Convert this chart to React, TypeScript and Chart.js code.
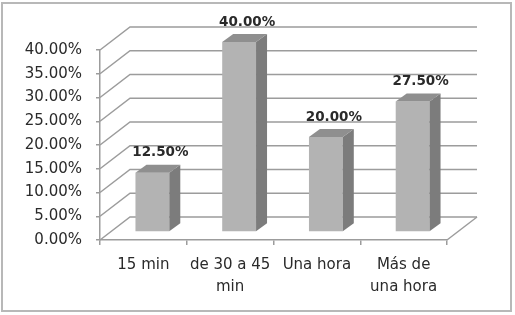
import { useEffect, useRef } from "react";
import { Chart, registerables } from "chart.js";

Chart.register(...registerables);

// Travel time categories and the share of answers for each
const categories: (string | string[])[] = [
  "15 min",
  ["de 30 a 45", "min"],
  "Una hora",
  ["Más de", "una hora"],
];
const shares = [0.125, 0.4, 0.2, 0.275];

// Value axis range
const axisMin = 0;
const axisMax = 0.4;
const axisStep = 0.05;

const pct = (v: number) => (v * 100).toFixed(2) + "%";

// 3D geometry (pixels)
const WALL_DX = 30;
const WALL_DY = -23;
const BAR_SHIFT_X = 9;
const BAR_SHIFT_Y = -8;
const BAR_DX = 11;
const BAR_DY = -8;

const GRID = "#9c9c9c";
const TEXT = "#2a2a2a";
const FRONT = "#b3b3b3";
const SIDE = "#7c7c7c";
const TOP = "#8f8f8f";
const FONT = "DejaVu Sans";

const box3d = {
  id: "box3d",
  beforeDraw(chart: any) {
    const { ctx, width, height } = chart;
    ctx.save();
    ctx.fillStyle = "#ffffff";
    ctx.fillRect(0, 0, width, height);
    ctx.strokeStyle = "#b8b8b8";
    ctx.lineWidth = 2;
    ctx.strokeRect(2, 3, 509, 308);
    ctx.restore();
  },
  beforeDatasetsDraw(chart: any) {
    const { ctx, chartArea, scales } = chart;
    const { left, right, bottom } = chartArea;
    const y = scales.y;
    ctx.save();
    ctx.strokeStyle = GRID;
    ctx.lineWidth = 1.5;
    y.ticks.forEach((t: any) => {
      const py = y.getPixelForValue(t.value);
      ctx.beginPath();
      ctx.moveTo(left, py);
      ctx.lineTo(left + WALL_DX, py + WALL_DY);
      ctx.lineTo(right + WALL_DX, py + WALL_DY);
      ctx.stroke();
    });
    ctx.beginPath();
    ctx.moveTo(right, bottom);
    ctx.lineTo(right + WALL_DX, bottom + WALL_DY);
    ctx.stroke();
    ctx.restore();
    // bars sit partway into the depth of the floor
    ctx.save();
    ctx.translate(BAR_SHIFT_X, BAR_SHIFT_Y);
  },
  afterDatasetsDraw(chart: any) {
    const { ctx } = chart;
    ctx.restore();
    const meta = chart.getDatasetMeta(0);
    const values = chart.data.datasets[0].data as number[];
    meta.data.forEach((bar: any, i: number) => {
      const { x, y, base, width } = bar.getProps(["x", "y", "base", "width"], true);
      const l = x - width / 2 + BAR_SHIFT_X;
      const r = x + width / 2 + BAR_SHIFT_X;
      const t = y + BAR_SHIFT_Y;
      const b = base + BAR_SHIFT_Y;
      ctx.save();
      // side face
      ctx.fillStyle = SIDE;
      ctx.beginPath();
      ctx.moveTo(r, t);
      ctx.lineTo(r + BAR_DX, t + BAR_DY);
      ctx.lineTo(r + BAR_DX, b + BAR_DY);
      ctx.lineTo(r, b);
      ctx.closePath();
      ctx.fill();
      // top face
      ctx.fillStyle = TOP;
      ctx.beginPath();
      ctx.moveTo(l, t);
      ctx.lineTo(r, t);
      ctx.lineTo(r + BAR_DX, t + BAR_DY);
      ctx.lineTo(l + BAR_DX, t + BAR_DY);
      ctx.closePath();
      ctx.fill();
      // value label
      ctx.fillStyle = TEXT;
      ctx.font = `bold 13.5px "${FONT}"`;
      ctx.textAlign = "center";
      ctx.textBaseline = "middle";
      ctx.fillText(pct(values[i]), x + 17, y - 28);
      ctx.restore();
    });
  },
};

export default function App() {
  const canvasRef = useRef<HTMLCanvasElement | null>(null);

  useEffect(() => {
    document.body.style.margin = "0";
    const canvas = canvasRef.current;
    if (!canvas) return;
    const chart = new Chart(canvas, {
      type: "bar",
      data: {
        labels: categories,
        datasets: [
          {
            data: shares,
            backgroundColor: FRONT,
            borderWidth: 0,
            barPercentage: 0.39,
            categoryPercentage: 1,
            clip: false,
          } as any,
        ],
      },
      options: {
        responsive: false,
        animation: false,
        devicePixelRatio: 1,
        layout: { padding: { left: 0, top: 50, right: 68, bottom: 0 } },
        plugins: {
          legend: { display: false },
          tooltip: { enabled: false },
        },
        scales: {
          x: {
            afterFit(scale: any) {
              scale.height = 75;
            },
            grid: {
              offset: true,
              drawOnChartArea: false,
              drawTicks: true,
              tickLength: 5,
              color: GRID,
              lineWidth: 1.5,
            },
            border: { display: true, color: GRID, width: 1.5 },
            ticks: {
              color: TEXT,
              padding: 9,
              maxRotation: 0,
              autoSkip: false,
              font: { family: FONT, size: 15, lineHeight: 1.45 },
            },
          },
          y: {
            min: axisMin,
            max: axisMax,
            afterFit(scale: any) {
              scale.width = 100;
            },
            grid: {
              drawOnChartArea: false,
              drawTicks: true,
              tickLength: 4,
              color: GRID,
              lineWidth: 1.5,
            },
            border: { display: true, color: GRID, width: 1.5 },
            ticks: {
              stepSize: axisStep,
              color: TEXT,
              padding: 14,
              font: { family: FONT, size: 15 },
              callback: (v: any) => pct(Number(v)),
            },
          },
        },
      },
      plugins: [box3d],
    });
    return () => chart.destroy();
  }, []);

  return (
    <div style={{ width: 515, height: 315 }}>
      <canvas ref={canvasRef} width={515} height={315} />
    </div>
  );
}
